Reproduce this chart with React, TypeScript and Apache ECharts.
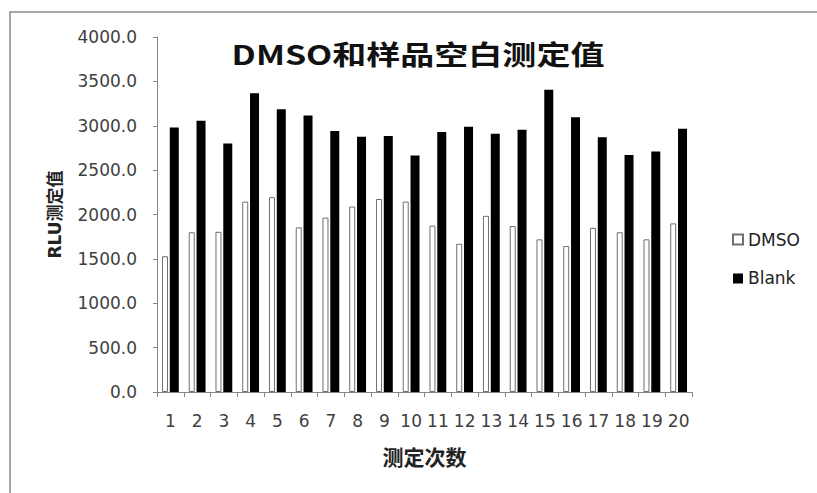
import React, { useEffect, useRef } from "react";
import * as echarts from "echarts";

const categories = ["1", "2", "3", "4", "5", "6", "7", "8", "9", "10", "11", "12", "13", "14", "15", "16", "17", "18", "19", "20"];
const dmsoValues = [1530, 1800, 1805, 2145, 2195, 1855, 1965, 2090, 2175, 2145, 1875, 1670, 1985, 1870, 1720, 1645, 1850, 1800, 1720, 1900];
const blankValues = [2980, 3055, 2800, 3365, 3185, 3115, 2940, 2875, 2885, 2665, 2930, 2990, 2910, 2955, 3405, 3095, 2870, 2670, 2710, 2965];
const titleText = "DMSO和样品空白测定值";
const yAxisName = "RLU测定值";
const xAxisName = "测定次数";
const seriesNames = ["DMSO", "Blank"];

export default function App() {
  const ref = useRef<HTMLDivElement>(null);
  useEffect(() => {
    if (!ref.current) return;
    const chart = echarts.init(ref.current, null, { renderer: "svg" });
    const labelFont = "DejaVu Sans, Noto Sans CJK SC, sans-serif";
    chart.setOption({
      animation: false,
      backgroundColor: "#ffffff",
      graphic: [
        {
          type: "rect",
          shape: { x: 10, y: 12, width: 830, height: 500 },
          style: { fill: "none", stroke: "#8a8a8a", lineWidth: 1.5 },
          silent: true,
        },
        {
          type: "text",
          x: 418,
          y: 53,
          scaleX: 1.26,
          style: {
            text: titleText,
            fontFamily: "Noto Sans CJK SC, sans-serif",
            fontWeight: "bold",
            fontSize: 27,
            fill: "#111",
            textAlign: "center",
            textVerticalAlign: "middle",
          },
        },
      ],
      legend: {
        orient: "vertical",
        left: 727,
        top: 226,
        itemWidth: 10,
        itemHeight: 10,
        itemGap: 22,
        icon: "rect",
        textStyle: { fontFamily: labelFont, fontSize: 17, color: "#222" },
        data: seriesNames,
      },
      grid: { left: 157, right: 125, top: 37, bottom: 101, containLabel: false },
      xAxis: {
        type: "category",
        data: categories,
        name: xAxisName,
        nameLocation: "middle",
        nameGap: 53,
        nameTextStyle: { fontFamily: "Noto Sans CJK SC, sans-serif", fontWeight: "bold", fontSize: 21, color: "#222" },
        axisLine: { lineStyle: { color: "#868686", width: 1 } },
        axisTick: { show: true, length: 5, lineStyle: { color: "#868686" } },
        axisLabel: { margin: 20, fontFamily: labelFont, fontSize: 17, color: "#404040", interval: 0 },
      },
      yAxis: {
        type: "value",
        min: 0,
        max: 4000,
        interval: 500,
        name: yAxisName,
        nameLocation: "middle",
        nameGap: 94,
        nameRotate: 90,
        nameTextStyle: { fontFamily: labelFont, fontWeight: "bold", fontSize: 17, color: "#222" },
        axisLine: { show: true, lineStyle: { color: "#868686", width: 1 } },
        axisTick: { show: true, length: 4, lineStyle: { color: "#868686" } },
        splitLine: { show: false },
        axisLabel: {
          margin: 20,
          fontFamily: labelFont,
          fontSize: 17,
          color: "#404040",
          formatter: (v: number) => v.toFixed(1),
        },
      },
      series: [
        {
          name: seriesNames[0],
          type: "bar",
          data: dmsoValues,
          barWidth: 6,
          barGap: "30%",
          itemStyle: { color: "#ffffff", borderColor: "#6f6f6f", borderWidth: 1 },
        },
        {
          name: seriesNames[1],
          type: "bar",
          data: blankValues,
          barWidth: 9,
          barGap: "30%",
          itemStyle: { color: "#000000" },
        },
      ],
    });
    return () => chart.dispose();
  }, []);
  return <div ref={ref} style={{ position: "fixed", left: 0, top: 0, width: 817, height: 493 }} />;
}
